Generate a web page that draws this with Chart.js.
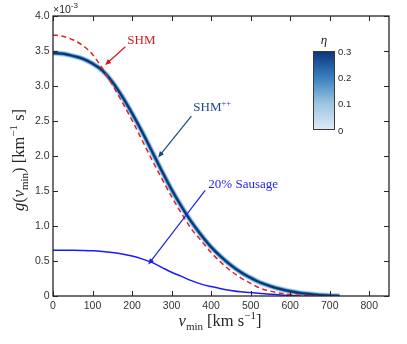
<!DOCTYPE html>
<html>
<head>
<meta charset="utf-8">
<script src="https://cdn.jsdelivr.net/npm/chart.js@4.4.1/dist/chart.umd.min.js"></script>
<style>
  html, body { margin: 0; padding: 0; background: #fff; }
  #wrap { width: 407px; height: 344px; }
</style>
</head>
<body>
<div id="wrap"><canvas id="gChart" width="407" height="344"></canvas></div>
<script>
// v_min grid (km/s)
const velocity = [0, 25, 50, 75, 100, 125, 150, 175, 200, 225, 250, 275, 300, 325, 350,
  375, 400, 425, 450, 475, 500, 525, 550, 575, 600, 625, 650, 675, 700, 725];

// g(v_min) in units of 1e-3 km^-1 s
const shm = [3.73, 3.71, 3.66, 3.58, 3.45, 3.25, 3.02, 2.77, 2.51, 2.23, 1.95, 1.68, 1.42, 1.18, 0.96,
  0.79, 0.62, 0.48, 0.36, 0.26, 0.18, 0.11, 0.07, 0.04, 0.022, 0.01, 0.004, 0, null, null];
const shmpp = [3.47, 3.46, 3.43, 3.39, 3.32, 3.22, 3.06, 2.85, 2.61, 2.35, 2.07, 1.79, 1.52, 1.28, 1.06,
  0.87, 0.70, 0.56, 0.44, 0.34, 0.26, 0.19, 0.14, 0.10, 0.068, 0.044, 0.027, 0.015, 0.006, 0];
const sausage = [0.655, 0.655, 0.653, 0.65, 0.645, 0.635, 0.62, 0.60, 0.57, 0.53, 0.48, 0.41, 0.34, 0.28, 0.22,
  0.17, 0.135, 0.105, 0.08, 0.06, 0.05, 0.035, 0.024, 0.015, 0.009, 0.004, 0.001, 0, null, null];

const xTicks = [0, 100, 200, 300, 400, 500, 600, 700, 800];
const yTicks = [0, 0.5, 1, 1.5, 2, 2.5, 3, 3.5, 4];
const etaTicks = [0, 0.1, 0.2, 0.3];

// annotation text + arrows, in data units
const notes = [
  { text: 'SHM', sup: '', color: '#d7191c', at: [188, 3.67], from: [183, 3.56], to: [132, 3.30] },
  { text: 'SHM', sup: '++', color: '#1c4687', at: [355, 2.71], from: [350, 2.57], to: [266, 1.98] },
  { text: '20% Sausage', sup: '', color: '#1f1fe6', at: [393, 1.61], from: [385, 1.51], to: [241, 0.45] }
];

const pts = arr => velocity.map((v, i) => ({ x: v, y: arr[i] }));

const SERIF = '"Liberation Serif", "DejaVu Serif", serif';
const SANS = '"Liberation Sans", Arial, sans-serif';

// draw a run of text pieces: [text, size, italic, dy, family]
function richText(ctx, parts, x, y, color) {
  ctx.fillStyle = color;
  ctx.textBaseline = 'alphabetic';
  ctx.textAlign = 'left';
  let cx = x;
  parts.forEach(p => {
    ctx.font = (p[2] ? 'italic ' : '') + p[1] + 'px ' + (p[4] || SERIF);
    ctx.fillText(p[0], cx, y + p[3]);
    cx += ctx.measureText(p[0]).width;
  });
  return cx - x;
}
function richWidth(ctx, parts) {
  let w = 0;
  parts.forEach(p => {
    ctx.font = (p[2] ? 'italic ' : '') + p[1] + 'px ' + (p[4] || SERIF);
    w += ctx.measureText(p[0]).width;
  });
  return w;
}

function arrow(ctx, x1, y1, x2, y2, color) {
  const a = Math.atan2(y2 - y1, x2 - x1);
  const hl = 6, hw = 2.6;
  ctx.strokeStyle = color;
  ctx.fillStyle = color;
  ctx.lineWidth = 1.2;
  ctx.beginPath();
  ctx.moveTo(x1, y1);
  ctx.lineTo(x2 - Math.cos(a) * hl * 0.8, y2 - Math.sin(a) * hl * 0.8);
  ctx.stroke();
  ctx.beginPath();
  ctx.moveTo(x2, y2);
  ctx.lineTo(x2 - Math.cos(a) * hl - Math.sin(a) * hw, y2 - Math.sin(a) * hl + Math.cos(a) * hw);
  ctx.lineTo(x2 - Math.cos(a) * hl + Math.sin(a) * hw, y2 - Math.sin(a) * hl - Math.cos(a) * hw);
  ctx.closePath();
  ctx.fill();
}

const decorPlugin = {
  id: 'decor',
  afterDraw(chart) {
    const ctx = chart.ctx;
    const { left, right, top, bottom } = chart.chartArea;
    const xs = chart.scales.x, ys = chart.scales.y;
    ctx.save();

    // frame + inward ticks
    ctx.strokeStyle = '#262626';
    ctx.lineWidth = 1.3;
    ctx.strokeRect(left, top, right - left, bottom - top);
    ctx.lineWidth = 1;
    ctx.beginPath();
    xTicks.forEach(v => {
      const px = Math.round(xs.getPixelForValue(v)) + 0.5;
      ctx.moveTo(px, bottom); ctx.lineTo(px, bottom - 5);
      ctx.moveTo(px, top); ctx.lineTo(px, top + 5);
    });
    yTicks.forEach(v => {
      const py = Math.round(ys.getPixelForValue(v)) + 0.5;
      ctx.moveTo(left, py); ctx.lineTo(left + 5, py);
      ctx.moveTo(right, py); ctx.lineTo(right - 5, py);
    });
    ctx.stroke();

    // x10^-3 multiplier
    richText(ctx, [['\u00d710', 10.5, false, 0, SANS], ['-3', 8, false, -5, SANS]], left, 13, '#262626');

    // axis titles
    const xParts = [['v', 16.5, true, 0], ['min', 11, false, 4], [' [km s', 16.5, false, 0], ['\u22121', 11, false, -7], [']', 16.5, false, 0]];
    const xw = richWidth(ctx, xParts);
    richText(ctx, xParts, 220 - xw / 2, 326, '#262626');

    const yParts = [['g', 16.5, true, 0], ['(', 16.5, false, 0], ['v', 16.5, true, 0], ['min', 11, false, 4], [')', 16.5, false, 0],
      [' [km', 16.5, false, 0], ['\u22121', 11, false, -7], [' s]', 16.5, false, 0]];
    const yw = richWidth(ctx, yParts);
    ctx.save();
    ctx.translate(24, 160);
    ctx.rotate(-Math.PI / 2);
    richText(ctx, yParts, -yw / 2, 0, '#262626');
    ctx.restore();

    // annotations
    notes.forEach(n => {
      arrow(ctx, xs.getPixelForValue(n.from[0]), ys.getPixelForValue(n.from[1]),
        xs.getPixelForValue(n.to[0]), ys.getPixelForValue(n.to[1]), n.color);
      const parts = [[n.text, 13, false, 0]];
      if (n.sup) parts.push([n.sup, 8.5, false, -5]);
      richText(ctx, parts, xs.getPixelForValue(n.at[0]), ys.getPixelForValue(n.at[1]) + 4.5, n.color);
    });

    // colorbar for eta
    const cbL = 313, cbR = 335, cbT = 51, cbB = 130;
    const g = ctx.createLinearGradient(0, cbB, 0, cbT);
    g.addColorStop(0, '#dfeaf6');
    g.addColorStop(0.33, '#9cc6e3');
    g.addColorStop(0.66, '#3a80bf');
    g.addColorStop(1, '#08357a');
    ctx.fillStyle = g;
    ctx.fillRect(cbL, cbT, cbR - cbL, cbB - cbT);
    ctx.strokeStyle = '#3a3a3a';
    ctx.lineWidth = 1;
    ctx.strokeRect(cbL + 0.5, cbT + 0.5, cbR - cbL - 1, cbB - cbT - 1);
    ctx.font = '9.5px ' + SANS;
    ctx.fillStyle = '#262626';
    ctx.textBaseline = 'middle';
    ctx.textAlign = 'left';
    etaTicks.forEach(t => {
      const py = cbB - (t / 0.3) * (cbB - cbT);
      ctx.fillText(String(t), cbR + 3, py + 1);
    });
    ctx.font = 'italic 13px ' + SERIF;
    ctx.textAlign = 'center';
    ctx.textBaseline = 'alphabetic';
    ctx.fillText('\u03b7', (cbL + cbR) / 2, 44);

    ctx.restore();
  }
};

// Chart.js paints dataset 0 last, so the top-most line comes first
const ctx = document.getElementById('gChart').getContext('2d');
new Chart(ctx, {
  type: 'line',
  data: {
    datasets: [
      { data: pts(shm), borderColor: '#dd2222', borderWidth: 1.5, borderDash: [5, 3.5] },
      { data: pts(shmpp), borderColor: '#0a3572', borderWidth: 2 },
      { data: pts(shmpp), borderColor: '#3f88c5', borderWidth: 3.5 },
      { data: pts(shmpp), borderColor: '#b7d5ee', borderWidth: 5.5 },
      { data: pts(sausage), borderColor: '#1a1aff', borderWidth: 1.5 }
    ]
  },
  options: {
    responsive: false,
    animation: false,
    devicePixelRatio: 1,
    parsing: false,
    layout: { padding: { left: 0, top: 16, right: 18, bottom: 0 } },
    elements: {
      point: { radius: 0 },
      line: { cubicInterpolationMode: 'monotone', fill: false }
    },
    plugins: { legend: { display: false }, tooltip: { enabled: false } },
    scales: {
      x: {
        type: 'linear', min: 0, max: 850,
        afterBuildTicks: s => { s.ticks = xTicks.map(v => ({ value: v })); },
        afterFit: s => { s.height = 48; },
        grid: { display: false, drawTicks: false },
        border: { display: false },
        ticks: { padding: 4, color: '#333', font: { family: SANS, size: 10.5 } }
      },
      y: {
        type: 'linear', min: 0, max: 4,
        afterBuildTicks: s => { s.ticks = yTicks.map(v => ({ value: v })); },
        afterFit: s => { s.width = 53; },
        grid: { display: false, drawTicks: false },
        border: { display: false },
        ticks: { padding: 3.5, color: '#333', font: { family: SANS, size: 10.5 } }
      }
    }
  },
  plugins: [decorPlugin]
});
</script>
</body>
</html>
